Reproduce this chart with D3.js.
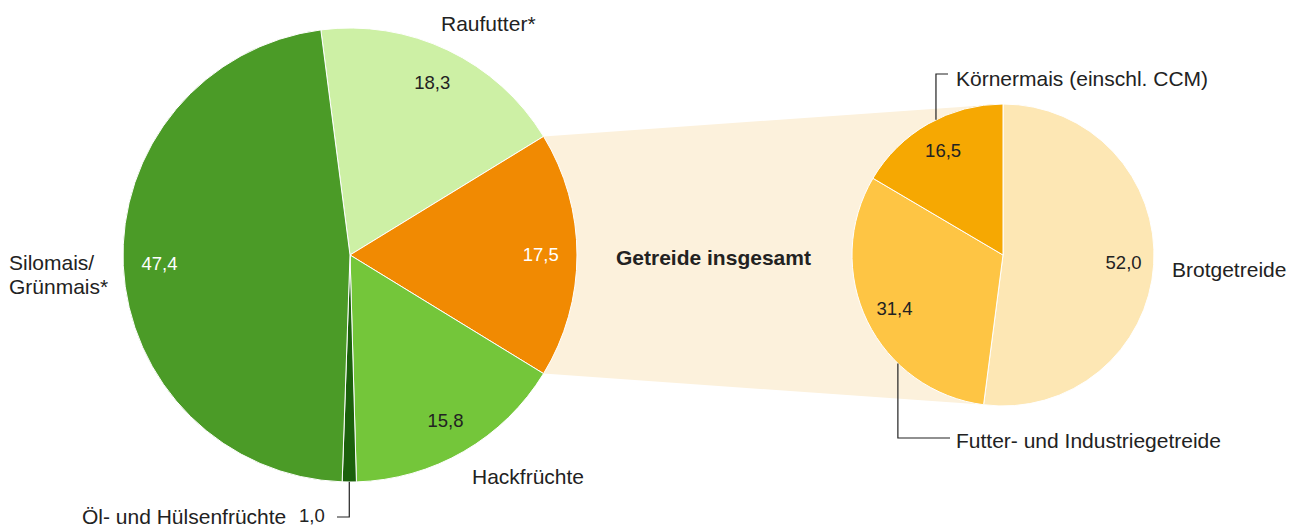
<!DOCTYPE html>
<html>
<head>
<meta charset="utf-8">
<script src="https://cdn.jsdelivr.net/npm/d3@7"></script>
<style>
  html, body { margin: 0; padding: 0; background: #fff; }
  svg { display: block; font-family: "Liberation Sans", Arial, Helvetica, sans-serif; }
</style>
</head>
<body>
<svg id="chart" width="1293" height="527"></svg>
<script>
// left pie: Anbau auf dem Ackerland (%)
let mainNames  = ['Raufutter*', 'Getreide insgesamt', 'Hackfrüchte', 'Öl- und Hülsenfrüchte', 'Silomais/Grünmais*'];
let mainValues = [18.3, 17.5, 15.8, 1.0, 47.4];
let mainColors = ['#cdf0a5', '#f18a02', '#74c63a', '#1b600c', '#4b9b27'];
let mainLabelColors = ['#222', '#fff', '#222', '#222', '#fff'];

// right pie: Getreide (%)
let grainNames  = ['Brotgetreide', 'Futter- und Industriegetreide', 'Körnermais (einschl. CCM)'];
let grainValues = [52.0, 31.4, 16.5];
let grainColors = ['#fde7b4', '#fec544', '#f6a802'];

let fmt = v => d3.format('.1f')(v).replace('.', ',');

let svg = d3.select('#chart');

let args = {
    left:  { center: [350, 255], radius: 227 },
    right: { center: [1003, 255], radius: 151 },
    labelSize: 21,
    valueSize: 18.5,
};

let mainTotal = d3.sum(mainValues);
let grainIdx = 1;
// rotate so that the Getreide slice points straight to the right
let mainStart = Math.PI / 2 - (mainValues[0] + mainValues[1] / 2) / mainTotal * 2 * Math.PI;

let mainPie = d3.pie().sort(null).value(d => d.value)
    .startAngle(mainStart).endAngle(mainStart + 2 * Math.PI);
let grainPie = d3.pie().sort(null).value(d => d.value);

let mainArcs = mainPie(mainNames.map((n, i) => ({ name: n, value: mainValues[i], i: i })));
let grainArcs = grainPie(grainNames.map((n, i) => ({ name: n, value: grainValues[i], i: i })));

// point on a circle, angle 0 = up, clockwise
let polar = function(c, r, a) {
    return [c[0] + r * Math.sin(a), c[1] - r * Math.cos(a)];
};

// connector band between Getreide slice and the right pie
let g = mainArcs[grainIdx];
let L = args.left, R = args.right;
let band = [
    polar(L.center, L.radius, g.startAngle),
    polar(R.center, R.radius, 0),
    polar(R.center, R.radius, Math.PI),
    polar(L.center, L.radius, g.endAngle),
];
svg.append('path')
    .attr('d', d3.line()(band) + 'Z')
    .attr('fill', '#fcf1dc');

// left pie
let leftArc = d3.arc().innerRadius(0).outerRadius(L.radius);
let leftLabel = d3.arc().innerRadius(L.radius * 0.84).outerRadius(L.radius * 0.84);
let lg = svg.append('g').attr('transform', `translate(${L.center})`);
lg.selectAll('path').data(mainArcs).join('path')
    .attr('d', leftArc)
    .attr('fill', d => mainColors[d.data.i])
    .attr('stroke', '#fff').attr('stroke-width', 1);
lg.selectAll('text').data(mainArcs.filter(d => d.data.value > 5)).join('text')
    .attr('transform', d => `translate(${leftLabel.centroid(d)})`)
    .attr('text-anchor', 'middle').attr('dy', '0.35em')
    .attr('font-size', args.valueSize)
    .attr('fill', d => mainLabelColors[d.data.i])
    .text(d => fmt(d.data.value));

// right pie
let rightArc = d3.arc().innerRadius(0).outerRadius(R.radius);
let rightLabel = d3.arc().innerRadius(R.radius * 0.8).outerRadius(R.radius * 0.8);
let rg = svg.append('g').attr('transform', `translate(${R.center})`);
rg.selectAll('path').data(grainArcs).join('path')
    .attr('d', rightArc)
    .attr('fill', d => grainColors[d.data.i])
    .attr('stroke', '#fff').attr('stroke-width', 1);
rg.selectAll('text').data(grainArcs).join('text')
    .attr('transform', d => `translate(${rightLabel.centroid(d)})`)
    .attr('text-anchor', 'middle').attr('dy', '0.35em')
    .attr('font-size', args.valueSize)
    .attr('fill', '#222')
    .text(d => fmt(d.data.value));

// category labels
let label = function(x, y, lines, opts) {
    opts = opts || {};
    let t = svg.append('text')
        .attr('x', x).attr('y', y)
        .attr('font-size', opts.size || args.labelSize)
        .attr('font-weight', opts.bold ? 'bold' : 'normal')
        .attr('text-anchor', opts.anchor || 'start')
        .attr('fill', '#222');
    lines.forEach((s, k) => t.append('tspan').attr('x', x).attr('dy', k ? 24 : 0).text(s));
};
let leader = function(pts) {
    svg.append('path').attr('d', d3.line()(pts))
        .attr('fill', 'none').attr('stroke', '#222').attr('stroke-width', 1.2);
};

label(441, 31, [mainNames[0]]);
label(9, 270, ['Silomais/', 'Grünmais*']);
label(472, 484, [mainNames[2]]);
label(616, 265, [mainNames[1]], { bold: true });

// Öl- und Hülsenfrüchte with leader
let oel = mainArcs[3];
let oelPt = polar(L.center, L.radius, (oel.startAngle + oel.endAngle) / 2);
leader([oelPt, [oelPt[0], 517], [337, 517]]);
label(82, 524, [mainNames[3]]);
label(299, 522, [fmt(mainValues[3])], { size: args.valueSize });

// right pie labels
label(1172, 277, [grainNames[0]]);
let kPt = polar(R.center, R.radius, 2 * Math.PI - 0.46);
leader([kPt, [kPt[0], 74], [948, 74]]);
label(956, 86, [grainNames[2]]);
let fPt = polar(R.center, R.radius, Math.PI + 0.77);
leader([fPt, [fPt[0], 438], [950, 438]]);
label(956, 448, [grainNames[1]]);
</script>
</body>
</html>
